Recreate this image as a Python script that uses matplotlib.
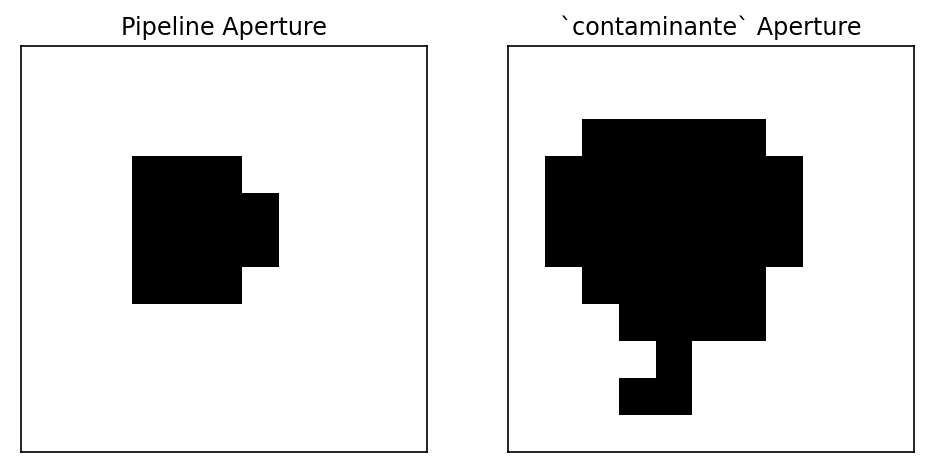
import numpy as np
import matplotlib
matplotlib.use("Agg")
import matplotlib.pyplot as plt

titles = ["Pipeline Aperture", "`contaminante` Aperture"]

pipeline_mask = [
    [0,0,0,0,0,0,0,0,0,0,0],
    [0,0,0,0,0,0,0,0,0,0,0],
    [0,0,0,0,0,0,0,0,0,0,0],
    [0,0,0,1,1,1,0,0,0,0,0],
    [0,0,0,1,1,1,1,0,0,0,0],
    [0,0,0,1,1,1,1,0,0,0,0],
    [0,0,0,1,1,1,0,0,0,0,0],
    [0,0,0,0,0,0,0,0,0,0,0],
    [0,0,0,0,0,0,0,0,0,0,0],
    [0,0,0,0,0,0,0,0,0,0,0],
    [0,0,0,0,0,0,0,0,0,0,0],
]

contaminante_mask = [
    [0,0,0,0,0,0,0,0,0,0,0],
    [0,0,0,0,0,0,0,0,0,0,0],
    [0,0,1,1,1,1,1,0,0,0,0],
    [0,1,1,1,1,1,1,1,0,0,0],
    [0,1,1,1,1,1,1,1,0,0,0],
    [0,1,1,1,1,1,1,1,0,0,0],
    [0,0,1,1,1,1,1,0,0,0,0],
    [0,0,0,1,1,1,1,0,0,0,0],
    [0,0,0,0,1,0,0,0,0,0,0],
    [0,0,0,1,1,0,0,0,0,0,0],
    [0,0,0,0,0,0,0,0,0,0,0],
]

fig = plt.figure(figsize=(9.28, 4.73), dpi=100)
W, H = 928, 473
ax1 = fig.add_axes([21 / W, (H - 452) / H, 406 / W, 406 / H])
ax2 = fig.add_axes([508 / W, (H - 452) / H, 406 / W, 406 / H])

for ax, mask, title in zip([ax1, ax2], [pipeline_mask, contaminante_mask], titles):
    ax.imshow(np.array(mask), cmap="Greys", vmin=0, vmax=1, origin="upper",
              interpolation="nearest", aspect="auto")
    ax.set_xticks([])
    ax.set_yticks([])
    for s in ax.spines.values():
        s.set_linewidth(1.2)
    ax.set_title(title, fontsize=17.2, pad=8)

fig.savefig("out.png", dpi=100)
